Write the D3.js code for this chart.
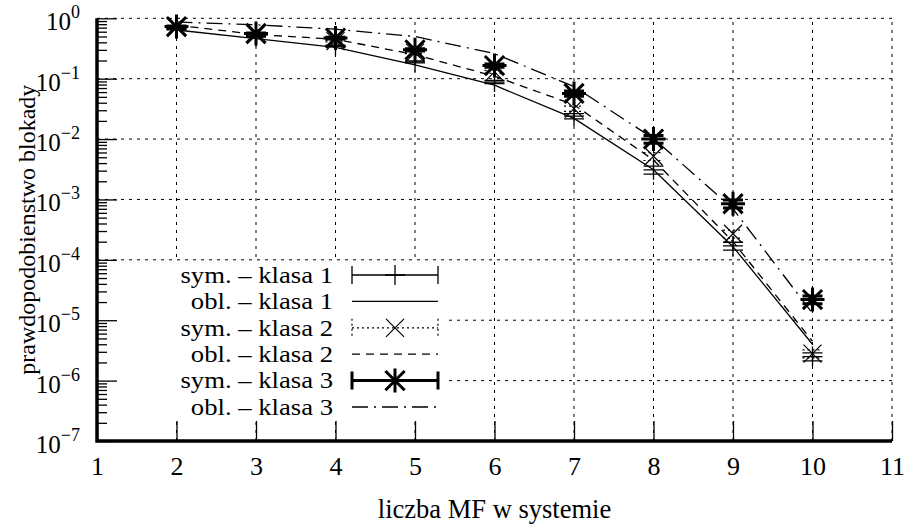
<!DOCTYPE html>
<html><head><meta charset="utf-8">
<script src="https://cdn.jsdelivr.net/npm/d3@7"></script>
<style>
html,body{margin:0;padding:0;background:#fff;}
</style></head>
<body>
<svg id="chart" width="909" height="527"></svg>
<script>
// ---- data ----
const xVals = [2, 3, 4, 5, 6, 7, 8, 9, 10];
const sym1 = [0.66, 0.50, 0.35, 0.19, 0.088, 0.024, 0.0031, 1.7e-4, 2.5e-6];
const obl1 = [0.64, 0.46, 0.33, 0.17, 0.078, 0.022, 0.0031, 1.65e-4, 4.0e-6];
const sym2 = [0.70, 0.53, 0.42, 0.27, 0.13, 0.032, 0.0052, 2.7e-4, 2.8e-6];
const obl2 = [0.77, 0.54, 0.45, 0.25, 0.11, 0.037, 0.0045, 2.0e-4, 4.5e-6];
const sym3 = [0.73, 0.56, 0.47, 0.30, 0.165, 0.057, 0.0100, 8.5e-4, 2.2e-5];
const obl3 = [0.87, 0.78, 0.66, 0.50, 0.26, 0.074, 0.0102, 7.0e-4, 1.3e-5];
// relative half-widths of confidence intervals
const err1 = [0.02, 0.02, 0.03, 0.04, 0.06, 0.10, 0.15, 0.15, 0.15];
const err2 = [0.02, 0.02, 0.03, 0.04, 0.06, 0.10, 0.15, 0.15, 0.15];
const err3 = [0.02, 0.02, 0.03, 0.04, 0.06, 0.10, 0.15, 0.15, 0.15];
const xTicks = [1, 2, 3, 4, 5, 6, 7, 8, 9, 10, 11];
const yExponents = [0, -1, -2, -3, -4, -5, -6, -7];
const legendLabels = ["sym. \u2013 klasa 1", "obl. \u2013 klasa 1", "sym. \u2013 klasa 2",
                      "obl. \u2013 klasa 2", "sym. \u2013 klasa 3", "obl. \u2013 klasa 3"];
const xTitle = "liczba MF w systemie";
const yTitle = "prawdopodobienstwo blokady";

// ---- setup ----
const FONT = "'Liberation Serif','Times New Roman',Times,'DejaVu Serif',serif";
const svg = d3.select("#chart");
const L = 97, R = 892, T = 18.3, B = 441;
const x = d3.scaleLinear().domain([1, 11]).range([L, R]);
const y = d3.scaleLog().domain([1e-7, 1]).range([B, T]);
const decades = yExponents.map(e => Math.pow(10, e));
const minors = [];
for (let e = -7; e < 0; e++) for (let m = 2; m <= 9; m++) minors.push(m * Math.pow(10, e));

// grid
const grid = svg.append("g").attr("stroke", "#000").attr("stroke-width", 1)
  .attr("stroke-dasharray", "3,5").attr("fill", "none");
grid.selectAll("line.v").data(xTicks.slice(1)).join("line")
  .attr("x1", d => x(d)).attr("x2", d => x(d)).attr("y1", B).attr("y2", T);
grid.selectAll("line.h").data(decades.filter(d => d > 1e-7)).join("line")
  .attr("x1", L).attr("x2", R).attr("y1", d => y(d)).attr("y2", d => y(d));

// lines (obl.)
const lineGen = d3.line().x(d => x(d[0])).y(d => y(d[1]));
const lineStyles = [
  {data: obl1, dash: null},
  {data: obl2, dash: "8,6"},
  {data: obl3, dash: "16,6,2,6"}
];
lineStyles.forEach(s => {
  svg.append("path").datum(xVals.map((v, i) => [v, s.data[i]]))
    .attr("d", lineGen).attr("fill", "none").attr("stroke", "#000")
    .attr("stroke-width", 1.3).attr("stroke-dasharray", s.dash);
});

// markers
function plusPath(cx, cy, r) { return `M${cx - r},${cy}H${cx + r}M${cx},${cy - r}V${cy + r}`; }
function crossPath(cx, cy, r) { return `M${cx - r},${cy - r}L${cx + r},${cy + r}M${cx - r},${cy + r}L${cx + r},${cy - r}`; }
function starPath(cx, cy, r) { return plusPath(cx, cy, r) + crossPath(cx, cy, r * 0.8); }

const symSeries = [
  {data: sym1, err: err1, marker: plusPath, r: 10, w: 1.3, ew: 1.3, edash: null},
  {data: sym2, err: err2, marker: crossPath, r: 9, w: 1.2, ew: 1.2, edash: "2,3"},
  {data: sym3, err: err3, marker: starPath, r: 12, w: 3, ew: 3, edash: null}
];
symSeries.forEach(s => {
  const g = svg.append("g").attr("fill", "none").attr("stroke", "#000");
  xVals.forEach((v, i) => {
    const cx = x(v), val = s.data[i];
    const lo = y(val * (1 - s.err[i])), hi = y(val * (1 + s.err[i]));
    g.append("path")
      .attr("d", `M${cx},${lo}V${hi}M${cx - 10},${lo}H${cx + 10}M${cx - 10},${hi}H${cx + 10}`)
      .attr("stroke-width", s.ew).attr("stroke-dasharray", s.edash);
    g.append("path").attr("d", s.marker(cx, y(val), s.r)).attr("stroke-width", s.w);
  });
});

// legend
const legX0 = 352, legX1 = 438, legTextX = 333;
const rowY = i => 275 + i * 26.4;
svg.append("rect").attr("x", L + 2).attr("y", 262).attr("width", 445 - L).attr("height", 157)
  .attr("fill", "#fff");
const legendStyles = [
  {kind: "sym", marker: plusPath, r: 10, w: 1.3, dash: null},
  {kind: "obl", dash: null},
  {kind: "sym", marker: crossPath, r: 9, w: 1.2, dash: "2,3"},
  {kind: "obl", dash: "8,6"},
  {kind: "sym", marker: starPath, r: 12, w: 3, dash: null},
  {kind: "obl", dash: "16,6,2,6"}
];
legendLabels.forEach((lab, i) => {
  const cy = rowY(i), st = legendStyles[i];
  svg.append("text").attr("transform", `translate(${legTextX},${cy}) scale(1.17,1)`)
    .attr("dy", "0.34em").attr("text-anchor", "end").attr("font-family", FONT)
    .attr("font-size", 22.8).text(lab);
  const g = svg.append("g").attr("fill", "none").attr("stroke", "#000");
  if (st.kind === "obl") {
    g.append("line").attr("x1", legX0).attr("x2", legX1).attr("y1", cy).attr("y2", cy)
      .attr("stroke-width", 1.3).attr("stroke-dasharray", st.dash);
  } else {
    g.append("path").attr("d", `M${legX0},${cy}H${legX1}M${legX0},${cy - 9}V${cy + 9}M${legX1},${cy - 9}V${cy + 9}`)
      .attr("stroke-width", st.w).attr("stroke-dasharray", st.dash);
    g.append("path").attr("d", st.marker((legX0 + legX1) / 2, cy, st.r)).attr("stroke-width", st.w);
  }
});

// axes
const xAxis = d3.axisBottom(x).tickValues(xTicks).tickSizeInner(-20).tickSizeOuter(0)
  .tickPadding(34).tickFormat(d3.format("d"));
const gx = svg.append("g").attr("transform", `translate(0,${B})`).call(xAxis)
  .attr("font-family", FONT).attr("font-size", 26);
gx.select(".domain").remove();
gx.selectAll(".tick line").attr("stroke", "#000").attr("stroke-width", 1.3);
gx.selectAll(".tick text").attr("fill", "#000").attr("dy", "0");

const yMinor = d3.axisLeft(y).tickValues(minors).tickSize(-10).tickFormat("");
const gym = svg.append("g").attr("transform", `translate(${L},0)`).call(yMinor);
gym.select(".domain").remove();
gym.selectAll(".tick line").attr("stroke", "#000").attr("stroke-width", 1.3);

const yAxis = d3.axisLeft(y).tickValues(decades).tickSize(-20).tickFormat("");
const gy = svg.append("g").attr("transform", `translate(${L},0)`).call(yAxis);
gy.select(".domain").remove();
gy.selectAll(".tick line").attr("stroke", "#000").attr("stroke-width", 1.3);

// decade labels with superscripts
yExponents.forEach(e => {
  const t = svg.append("text").attr("x", 80).attr("y", y(Math.pow(10, e)) + 12)
    .attr("text-anchor", "end").attr("font-family", FONT).attr("font-size", 25);
  t.append("tspan").text("10");
  t.append("tspan").attr("font-size", 18).attr("dy", -12).text(e === 0 ? "0" : "\u2212" + (-e));
});

// border (left & bottom, thick)
svg.append("path").attr("d", `M${L},${T}V${B}H${R}`).attr("fill", "none")
  .attr("stroke", "#000").attr("stroke-width", 3.5);

// titles
svg.append("text").attr("x", (L + R) / 2).attr("y", 518).attr("text-anchor", "middle")
  .attr("font-family", FONT).attr("font-size", 26.5).text(xTitle);
svg.append("text").attr("transform", `translate(35,${(T + B) / 2}) rotate(-90)`)
  .attr("text-anchor", "middle").attr("font-family", FONT).attr("font-size", 24).text(yTitle);
</script>
</body></html>
